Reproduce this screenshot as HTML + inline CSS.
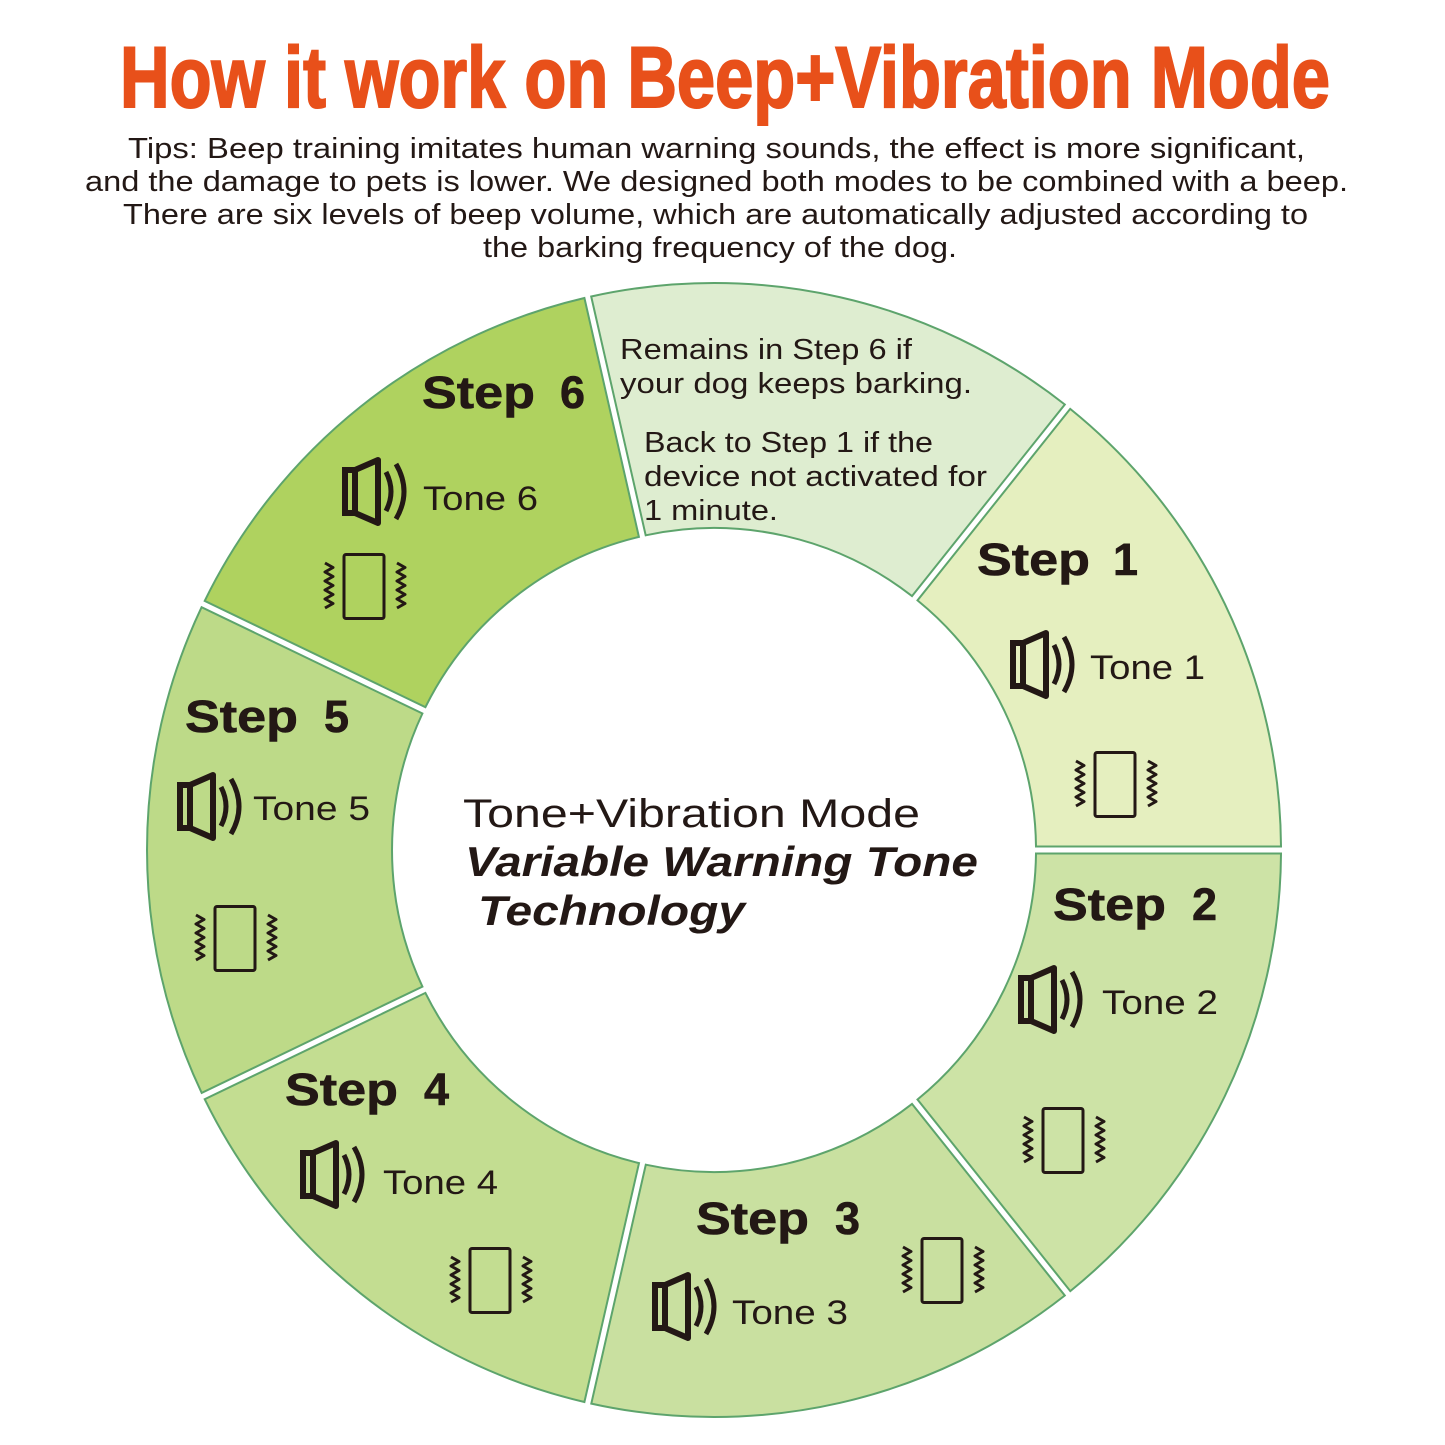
<!DOCTYPE html>
<html><head><meta charset="utf-8"><style>
html,body{margin:0;padding:0;background:#fff}
svg{display:block}
.t{font-family:"Liberation Sans",Arial,sans-serif;fill:#231815}
.st{font-family:"Liberation Sans",Arial,sans-serif;font-weight:bold;font-size:45px;fill:#231815;stroke:#231815;stroke-width:0.6}
.tone{font-family:"Liberation Sans",Arial,sans-serif;font-size:34px;fill:#231815}
.note{font-family:"Liberation Sans",Arial,sans-serif;font-size:29px;fill:#231815}
</style></head><body>
<svg id="s" width="1445" height="1445" viewBox="0 0 1445 1445" xmlns="http://www.w3.org/2000/svg">
<defs>
<g id="spk">
<rect x="3" y="10" width="10" height="43" fill="none" stroke="#231815" stroke-width="6"/>
<path d="M13 10 L36 0 L36 63 L13 53" fill="none" stroke="#231815" stroke-width="6" stroke-linejoin="round"/>
<path d="M44 12 Q54 31.5 44 51" fill="none" stroke="#231815" stroke-width="5"/>
<path d="M54 4 Q70 31.5 54 59" fill="none" stroke="#231815" stroke-width="5"/>
</g>
<g id="vib">
<rect x="24" y="1.5" width="40" height="64" rx="2" fill="none" stroke="#231815" stroke-width="3"/>
<path d="M5 10 l8 4.5 -8 4.5 8 4.5 -8 4.5 8 4.5 -8 4.5 8 4.5 -8 4.5 8 4.5 -8 4.5" fill="none" stroke="#231815" stroke-width="3" stroke-linejoin="round"/>
<path d="M77 10 l8 4.5 -8 4.5 8 4.5 -8 4.5 8 4.5 -8 4.5 8 4.5 -8 4.5 8 4.5 -8 4.5" fill="none" stroke="#231815" stroke-width="3" stroke-linejoin="round"/>
</g>
</defs>
<g id="ring"></g>
<text x="725" y="107" text-anchor="middle" textLength="1210" lengthAdjust="spacingAndGlyphs" font-family="Liberation Sans,Arial,sans-serif" font-weight="bold" font-size="86" fill="#e8501a" stroke="#e8501a" stroke-width="2">How it work on Beep+Vibration Mode</text>
<g class="t" font-size="29">
<text x="128" y="158" textLength="1177" lengthAdjust="spacingAndGlyphs">Tips: Beep training imitates human warning sounds,  the effect is more significant,</text>
<text x="85" y="191" textLength="1263" lengthAdjust="spacingAndGlyphs">and the damage to pets is lower. We designed both modes to be combined with a beep.</text>
<text x="123" y="224" textLength="1185" lengthAdjust="spacingAndGlyphs">There are six levels of beep volume, which are automatically adjusted according to</text>
<text x="483" y="257" textLength="474" lengthAdjust="spacingAndGlyphs">the barking frequency of the dog.</text>
</g>
<text class="note" x="620" y="359" textLength="292" lengthAdjust="spacingAndGlyphs">Remains in Step 6 if</text>
<text class="note" x="620" y="393" textLength="352" lengthAdjust="spacingAndGlyphs">your dog keeps barking.</text>
<text class="note" x="644" y="452" textLength="289" lengthAdjust="spacingAndGlyphs">Back to Step 1 if the</text>
<text class="note" x="644" y="486" textLength="343" lengthAdjust="spacingAndGlyphs">device not activated for</text>
<text class="note" x="644" y="520" textLength="134" lengthAdjust="spacingAndGlyphs">1 minute.</text>

<text class="st" x="422" y="408" textLength="113" lengthAdjust="spacingAndGlyphs">Step</text><text class="st" x="560" y="408">6</text>
<use href="#spk" x="342" y="460"/><text class="tone" x="423" y="510" textLength="115" lengthAdjust="spacingAndGlyphs">Tone 6</text>
<use href="#vib" x="320" y="553"/>

<text class="st" x="977" y="575" textLength="113" lengthAdjust="spacingAndGlyphs">Step</text><text class="st" x="1113" y="575">1</text>
<use href="#spk" x="1010" y="633"/><text class="tone" x="1090" y="679" textLength="115" lengthAdjust="spacingAndGlyphs">Tone 1</text>
<use href="#vib" x="1071" y="751"/>

<text class="st" x="1053" y="920" textLength="113" lengthAdjust="spacingAndGlyphs">Step</text><text class="st" x="1192" y="920">2</text>
<use href="#spk" x="1018" y="968"/><text class="tone" x="1102" y="1014" textLength="116" lengthAdjust="spacingAndGlyphs">Tone 2</text>
<use href="#vib" x="1019" y="1107"/>

<text class="st" x="696" y="1234" textLength="113" lengthAdjust="spacingAndGlyphs">Step</text><text class="st" x="835" y="1234">3</text>
<use href="#spk" x="652" y="1275"/><text class="tone" x="732" y="1324" textLength="116" lengthAdjust="spacingAndGlyphs">Tone 3</text>
<use href="#vib" x="898" y="1237"/>

<text class="st" x="285" y="1105" textLength="113" lengthAdjust="spacingAndGlyphs">Step</text><text class="st" x="424" y="1105">4</text>
<use href="#spk" x="300" y="1143"/><text class="tone" x="383" y="1194" textLength="115" lengthAdjust="spacingAndGlyphs">Tone 4</text>
<use href="#vib" x="446" y="1247"/>

<text class="st" x="185" y="732" textLength="113" lengthAdjust="spacingAndGlyphs">Step</text><text class="st" x="324" y="732">5</text>
<use href="#spk" x="177" y="775"/><text class="tone" x="253" y="820" textLength="117" lengthAdjust="spacingAndGlyphs">Tone 5</text>
<use href="#vib" x="191" y="905"/>

<text class="t" x="463" y="827" font-size="40" textLength="457" lengthAdjust="spacingAndGlyphs">Tone+Vibration Mode</text>
<text class="t" x="465" y="876" font-size="42" font-weight="bold" font-style="italic" textLength="513" lengthAdjust="spacingAndGlyphs">Variable Warning Tone</text>
<text class="t" x="478" y="925" font-size="42" font-weight="bold" font-style="italic" textLength="267" lengthAdjust="spacingAndGlyphs">Technology</text>
</svg>
<script>
(function(){
var cx=714,cy=850,Ro=567,Ri=322,g=3.5;
var cols=["#deedd0","#e5efbf","#cde3a6","#c9e0a0","#c3dd91","#bdda88","#afd25f"];
var base=-102.86,step=360/7,out="";
function pt(r,a){return (cx+r*Math.cos(a)).toFixed(1)+","+(cy+r*Math.sin(a)).toFixed(1);}
for(var i=0;i<7;i++){
 var a0=(base+i*step)*Math.PI/180,a1=(base+(i+1)*step)*Math.PI/180;
 var o0=a0+Math.asin(g/Ro),o1=a1-Math.asin(g/Ro),i0=a0+Math.asin(g/Ri),i1=a1-Math.asin(g/Ri);
 var d="M"+pt(Ro,o0)+" A"+Ro+","+Ro+" 0 0 1 "+pt(Ro,o1)+" L"+pt(Ri,i1)+" A"+Ri+","+Ri+" 0 0 0 "+pt(Ri,i0)+" Z";
 out+='<path d="'+d+'" fill="'+cols[i]+'" stroke="#5da46c" stroke-width="2"/>';
}
document.getElementById("ring").innerHTML=out;
})();
</script>
</body></html>
